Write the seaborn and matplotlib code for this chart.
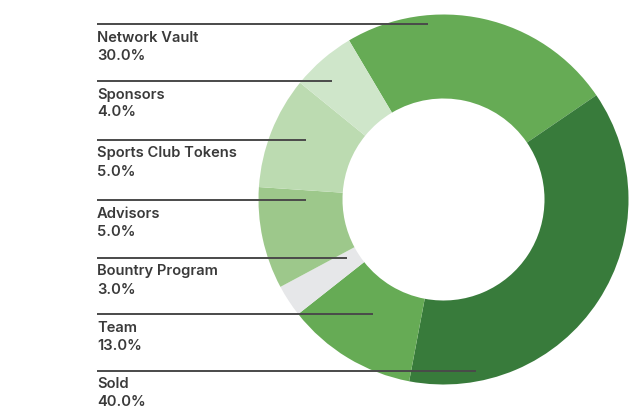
import matplotlib
matplotlib.use("Agg")
import matplotlib.pyplot as plt
import seaborn as sns

# ---- data (clockwise order of the ring, starting at Network Vault) ----
ring_labels = ["Network Vault", "Sold", "Team", "Bountry Program",
               "Advisors", "Sports Club Tokens", "Sponsors"]
ring_shares = [24.0, 37.5, 11.4, 2.8, 8.9, 9.8, 5.6]   # slice sizes as drawn
ring_colors = ["#66ab55", "#387b3b", "#66ab55", "#e6e7e9",
               "#9dc88b", "#bcdbb1", "#cfe6ca"]

# ---- legend text (top to bottom) ----
legend_names = ["Network Vault", "Sponsors", "Sports Club Tokens", "Advisors",
                "Bountry Program", "Team", "Sold"]
legend_pcts = ["30.0%", "4.0%", "5.0%", "5.0%", "3.0%", "13.0%", "40.0%"]

sns.set_theme(style="white")
plt.rcParams["font.family"] = ["Inter", "DejaVu Sans"]

W, H = 640, 415
fig = plt.figure(figsize=(W / 100, H / 100), dpi=100)
ax = fig.add_axes([0, 0, 1, 1])

cx, cy = 443.5, H - 199.5
R, ring_w = 185, 84
ax.pie(ring_shares, colors=ring_colors, center=(cx, cy), radius=R,
       startangle=120.7, counterclock=False,
       wedgeprops=dict(width=ring_w, linewidth=0))

# leader lines and labels (layout in pixel coords, y from top)
line_y = [24.5, 81, 140, 200, 258, 314, 370.5]
line_x1 = [428, 332, 306, 306, 347, 373, 476]
x0 = 97
txt_col = "#3a3a3a"
for name, pct, ly, lx in zip(legend_names, legend_pcts, line_y, line_x1):
    ax.plot([x0, lx], [H - ly, H - ly], color="#4a4a4a", lw=1.4,
            solid_capstyle="butt", zorder=5)
    ax.text(x0, H - (ly + 17.5), name, fontsize=10.6, fontweight="semibold",
            color=txt_col, ha="left", va="baseline")
    ax.text(x0, H - (ly + 35.5), pct, fontsize=10.6, fontweight="semibold",
            color=txt_col, ha="left", va="baseline")

ax.set_xlim(0, W)
ax.set_ylim(0, H)
ax.set_aspect("auto")
ax.axis("off")

fig.savefig("out.png", dpi=100, facecolor="white")
